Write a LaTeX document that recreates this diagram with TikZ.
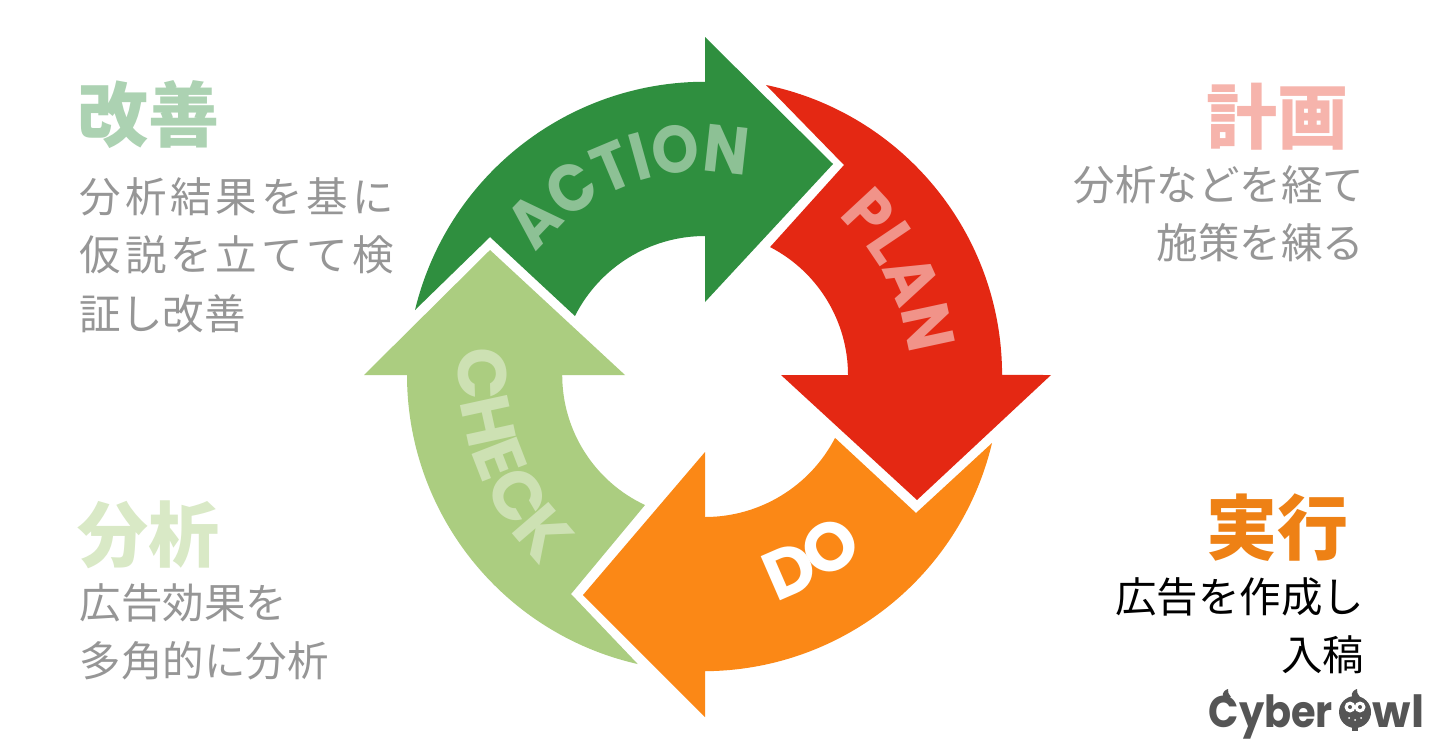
\documentclass[tikz,border=0pt]{standalone}
\usepackage{fontspec}
\usepackage{xcolor}
\usetikzlibrary{decorations.text}
\newfontfamily\cjk{Noto Sans CJK JP}
\newfontfamily\arcfont{Poppins}
\definecolor{actiongreen}{HTML}{2F8F3F}
\definecolor{checkgreen}{HTML}{ABCD80}
\definecolor{planred}{HTML}{E42813}
\definecolor{doorange}{HTML}{FB8816}
\definecolor{logogray}{HTML}{555555}
\definecolor{bodygray}{HTML}{969696}
\tikzset{
  titletext/.style={inner sep=0pt,font=\cjk\bfseries\fontsize{20.2}{24}\selectfont},
  bodytext/.style={inner sep=0pt,text=bodygray,font=\cjk\fontsize{11.8}{16.6}\selectfont},
  logotext/.style={inner sep=0pt,text=logogray,font=\arcfont\bfseries\fontsize{12.6}{14}\selectfont}
}
\newcommand{\arcformat}[3]{\arcfont\bfseries\addfontfeature{FakeStretch=#2}\fontsize{#3}{#3}\selectfont\color{#1}}
\newcommand{\widebody}[1]{{\addfontfeature{LetterSpace=9.5}#1}}
\begin{document}
\begin{tikzpicture}[x=0.01cm,y=0.01cm]
\useasboundingbox (0,0) rectangle (1440,-754);
\fill [white] (0,0) rectangle (1440,-754);
\coordinate (hub) at (705,-375);
% arrows
\fill [actiongreen] (415,-310) arc (166.4:90:298.4) -- (705,-37) -- (833,-164) -- (705,-302) -- (705,-236) arc (90:153.2:145.7) -- (490,-237) -- cycle;
\fill [planred] (766,-85) arc (78.3:0:296.1) -- (1051,-375) -- (917,-500) -- (781,-375) -- (848,-375) arc (0:62.7:144) -- (844,-165) -- cycle;
\fill [doorange] (992,-443) arc (-13.4:-90:297) -- (705,-671) -- (705,-717) -- (583,-595) -- (705,-452) -- (705,-517) arc (-90:-27.4:146.5) -- (916,-513) -- cycle;
\fill [checkgreen] (407,-375) arc (180:257.2:296.4) -- (571,-594) -- (645,-505) arc (245:180:143.4) -- (625,-375) -- (490,-250) -- (364,-375) -- cycle;
% words on the arrows
\path [decorate,decoration={text along path,text align=center,text={|\arcformat{actiongreen!55!white}{0.9}{19}|ACTION}}] (701,-380) ++(170:208) arc (170:50:208);
\path [decorate,decoration={text along path,text align=center,text={|\arcformat{planred!50!white}{0.92}{19}|PLAN}}] (692,-378) ++(78:218) arc (78:-24:218);
\path [decorate,decoration={text along path,text align=center,text={|\arcformat{checkgreen!60!white}{1}{19.5}|CHECK}}] (738,-366) ++(151:280) arc (151:251:280);
\path [decorate,decoration={text along path,text align=center,text={|\arcformat{white}{1}{19.5}|DO}}] (hub) ++(-100:237) arc (-100:-20:237);
% left column
\node [titletext,text=actiongreen!40!white,anchor=west] (improvetitle) at (77,-115) {改善};
\node [bodytext,anchor=north west,align=left] (improvebody) at (79,-177) {\widebody{分析結果を基に}\\\widebody{仮説を立てて検}\\証し改善};
\node [titletext,text=checkgreen!45!white,anchor=west] (analysetitle) at (77,-535) {分析};
\node [bodytext,anchor=north west,align=left] (analysebody) at (79,-583) {広告効果を\\多角的に分析};
% right column
\node [titletext,text=planred!35!white,anchor=east] (plantitle) at (1349,-117) {計画};
\node [bodytext,anchor=north east,align=right] (planbody) at (1365,-165) {分析などを経て\\施策を練る};
\node [titletext,text=doorange!95!black,anchor=east] (dotitle) at (1349,-528) {実行};
\node [bodytext,text=black,anchor=north east,align=right] (dobody) at (1365,-577) {広告を作成し\\入稿};
% logo
\node [logotext,anchor=base west] (logoleft) at (1208,-727) {\addfontfeature{FakeStretch=0.9}Cyber};
\node [logotext,anchor=base west] (logoright) at (1372,-727) {wl};
\fill [logogray] (1223,-697) .. controls (1222,-692) and (1225,-690) .. (1228,-689) .. controls (1227,-692) and (1229,-694) .. (1231,-697) -- cycle;
\fill [logogray] (1355,-712) circle (16);
\fill [logogray] (1352,-697) .. controls (1351,-692) and (1354,-690) .. (1357,-689) .. controls (1356,-692) and (1358,-694) .. (1360,-697) -- cycle;
\fill [logogray] (1352,-726) rectangle (1358,-731);
\fill [white] (1350,-707) circle (5.5) (1360,-707) circle (5.5);
\fill [logogray] (1350,-707) circle (2) (1360,-707) circle (2);
\fill [white] (1349,-718) circle (1) (1355,-720) circle (1) (1361,-718) circle (1);
\end{tikzpicture}
\end{document}
